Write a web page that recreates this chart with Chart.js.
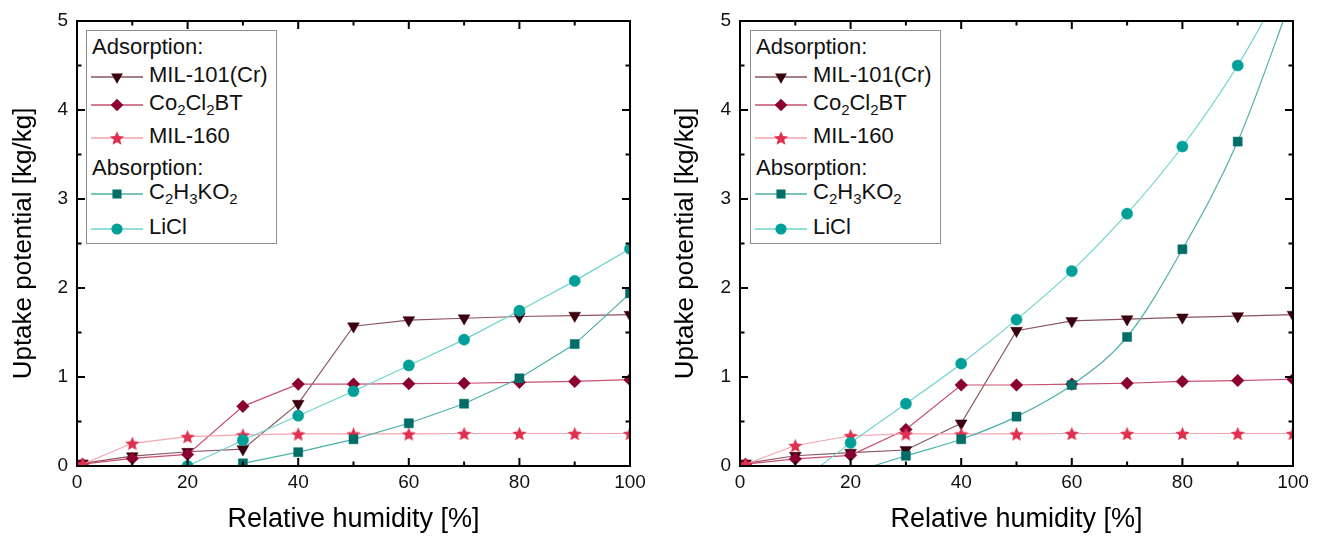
<!DOCTYPE html>
<html><head><meta charset="utf-8">
<script src="https://cdn.jsdelivr.net/npm/chart.js@4.4.1/dist/chart.umd.min.js"></script>
<style>
body{margin:0;background:#fff;width:1320px;height:539px;overflow:hidden;position:relative;font-family:"Liberation Sans",Arial,sans-serif;}
.panel{position:absolute;top:0;width:660px;height:539px;}
.legend{position:absolute;top:30px;width:189px;height:212px;border:1px solid #8f8f8f;background:#fff;}
.legend svg{position:absolute;left:0;top:0;}
.row{position:absolute;height:26px;line-height:26px;font-size:22px;color:#111;white-space:nowrap;}
.row sub{font-size:15px;vertical-align:-5px;line-height:0;}
</style></head>
<body>
<div class="panel" style="left:0"><canvas id="cL" width="660" height="539"></canvas></div>
<div class="panel" style="left:660px"><canvas id="cR" width="660" height="539"></canvas></div>
<div class="legend" id="legL" style="left:86px"></div>
<div class="legend" id="legR" style="left:750px"></div>
<script>
// ---------- data ----------
const rhAll = [1, 10, 20, 30, 40, 50, 60, 70, 80, 90, 100];
const rhKOAcLeft = [30, 40, 50, 60, 70, 80, 90, 100];
const rhLiClLeft = [20, 30, 40, 50, 60, 70, 80, 90, 100];
const rhKOAcRight = [20, 30, 40, 50, 60, 70, 80, 90, 100];
const rhLiClRight = [10, 20, 30, 40, 50, 60, 70, 80, 90, 100];

const mil101Left = [0.03, 0.11, 0.16, 0.19, 0.70, 1.57, 1.64, 1.66, 1.68, 1.69, 1.70];
const co2cl2btLeft = [0.02, 0.085, 0.13, 0.67, 0.92, 0.92, 0.925, 0.93, 0.94, 0.95, 0.97];
const mil160Left = [0.02, 0.255, 0.33, 0.35, 0.36, 0.36, 0.36, 0.365, 0.365, 0.365, 0.365];
const koacLeft = [0.03, 0.155, 0.30, 0.48, 0.70, 0.985, 1.37, 1.94];
const liclLeft = [0.0, 0.29, 0.565, 0.84, 1.13, 1.42, 1.745, 2.08, 2.44];

const mil101Right = [0.03, 0.115, 0.15, 0.18, 0.48, 1.52, 1.63, 1.65, 1.67, 1.685, 1.70];
const co2cl2btRight = [0.02, 0.08, 0.12, 0.41, 0.91, 0.91, 0.92, 0.93, 0.95, 0.96, 0.975];
const mil160Right = [0.02, 0.23, 0.34, 0.36, 0.36, 0.36, 0.365, 0.365, 0.365, 0.365, 0.365];
const koacRight = [-0.08, 0.115, 0.30, 0.555, 0.91, 1.45, 2.435, 3.645, 5.3];
const liclRight = [-0.22, 0.26, 0.70, 1.15, 1.645, 2.19, 2.835, 3.59, 4.50, 5.6];

const seriesNames = ['MIL-101(Cr)', 'Co2Cl2BT', 'MIL-160', 'C2H3KO2', 'LiCl'];
const xTickValues = [0, 20, 40, 60, 80, 100];
const yTickValues = [0, 1, 2, 3, 4, 5];
const xTitle = 'Relative humidity [%]';
const yTitle = 'Uptake potential [kg/kg]';
const legendHeaders = ['Adsorption:', 'Absorption:'];
const legendLabels = ['MIL-101(Cr)', 'Co<sub>2</sub>Cl<sub>2</sub>BT', 'MIL-160', 'C<sub>2</sub>H<sub>3</sub>KO<sub>2</sub>', 'LiCl'];

// ---------- styles ----------
const styles = [
  {line:'#8a5563', mark:'#3a0010', shape:'triangle', r:6.8, rot:180},
  {line:'#c8506e', mark:'#8a0030', shape:'rectRot', r:6.3, rot:0},
  {line:'#f4a3b2', mark:'#e0304f', shape:'star', r:7, rot:0},
  {line:'#4fb0a8', mark:'#006e66', shape:'rect', r:6.4, rot:0},
  {line:'#6fd3cc', mark:'#00a099', shape:'circle', r:5.6, rot:0}
];

function starCanvas(color, size){
  const c = document.createElement('canvas');
  c.width = c.height = size;
  const g = c.getContext('2d');
  const R = size/2, r = R*0.45, cy = R + R*0.1;
  g.beginPath();
  for (let i=0;i<10;i++){
    const a = -Math.PI/2 + i*Math.PI/5;
    const rr = i%2 ? r : R;
    g.lineTo(R + rr*Math.cos(a), cy + rr*Math.sin(a));
  }
  g.closePath(); g.fillStyle = color; g.fill();
  return c;
}
const starImg = starCanvas(styles[2].mark, 15);

function pts(xs, ys){ return xs.map((x,i)=>({x:x, y:ys[i]})); }

function ds(idx, xs, ys, smooth){
  const s = styles[idx];
  return {
    label: seriesNames[idx],
    data: pts(xs, ys),
    borderColor: s.line, borderWidth: 1.2,
    backgroundColor: s.mark,
    pointStyle: s.shape === 'star' ? starImg : s.shape,
    pointRotation: s.rot,
    pointRadius: s.r,
    pointBackgroundColor: s.mark,
    pointBorderColor: s.mark,
    pointBorderWidth: 0.5,
    cubicInterpolationMode: smooth ? 'monotone' : 'default',
    tension: 0,
    clip: 0,
    order: 5 - idx
  };
}

const framePlugin = {
  id: 'frame',
  afterDatasetsDraw(chart){
    const {ctx, chartArea:{left,right,top,bottom}, scales:{x,y}} = chart;
    ctx.save();
    ctx.strokeStyle = '#000';
    ctx.lineWidth = 2;
    ctx.beginPath();
    for (let v=0; v<=100; v+=10){
      const px = x.getPixelForValue(v);
      const len = (v%20===0) ? 8 : 4.5;
      ctx.moveTo(px, bottom); ctx.lineTo(px, bottom-len);
      ctx.moveTo(px, top); ctx.lineTo(px, top+len);
    }
    for (let v=0; v<=5; v+=0.5){
      const py = y.getPixelForValue(v);
      const len = (Math.abs(v-Math.round(v))<1e-9) ? 8 : 4.5;
      ctx.moveTo(left, py); ctx.lineTo(left+len, py);
      ctx.moveTo(right, py); ctx.lineTo(right-len, py);
    }
    ctx.stroke();
    ctx.lineWidth = 2;
    ctx.strokeRect(left, top, right-left, bottom-top);
    ctx.restore();
  }
};

function makeChart(id, datasets, yWidth, padRight, titlePad){
  return new Chart(document.getElementById(id), {
    type: 'line',
    data: { datasets: datasets },
    options: {
      responsive: false, animation: false, devicePixelRatio: 1, events: [],
      layout: { padding: { top: 21, right: padRight, left: 0, bottom: 0 } },
      plugins: { legend: {display:false}, tooltip: {enabled:false} },
      scales: {
        x: {
          type: 'linear', min: 0, max: 100,
          afterFit: s => { s.height = 73; },
          afterBuildTicks: s => { s.ticks = xTickValues.map(v=>({value:v})); },
          grid: { display: false, drawTicks: false },
          border: { display: false },
          ticks: { padding: 5, color: '#111', font: {family:'"Liberation Sans", Arial, sans-serif', size: 19}, maxRotation: 0 },
          title: { display: true, text: xTitle, color: '#000', padding: {top:0, bottom:3},
                   font: {family:'"Liberation Sans", Arial, sans-serif', size: 27} }
        },
        y: {
          type: 'linear', min: 0, max: 5,
          afterFit: s => { s.width = yWidth; },
          afterBuildTicks: s => { s.ticks = yTickValues.map(v=>({value:v})); },
          grid: { display: false, drawTicks: false },
          border: { display: false },
          ticks: { padding: 9, color: '#111', font: {family:'"Liberation Sans", Arial, sans-serif', size: 19} },
          title: { display: true, text: yTitle, color: '#000', padding: {top: titlePad, bottom: 0},
                   font: {family:'"Liberation Sans", Arial, sans-serif', size: 26} }
        }
      }
    },
    plugins: [framePlugin]
  });
}

makeChart('cL', [
  ds(0, rhAll, mil101Left, false),
  ds(1, rhAll, co2cl2btLeft, false),
  ds(2, rhAll, mil160Left, false),
  ds(3, rhKOAcLeft, koacLeft, false),
  ds(4, rhLiClLeft, liclLeft, false)
], 77, 30, 8);

makeChart('cR', [
  ds(0, rhAll, mil101Right, false),
  ds(1, rhAll, co2cl2btRight, false),
  ds(2, rhAll, mil160Right, false),
  ds(3, rhKOAcRight, koacRight, true),
  ds(4, rhLiClRight, liclRight, true)
], 80, 27, 10);

// ---------- legend (HTML text + SVG symbols) ----------
function markerSvg(s, cx, cy){
  const c = s.mark;
  if (s.shape==='triangle'){
    const r=s.r, w=r*Math.sqrt(3)/2;
    return `<polygon points="${cx-w},${cy-r/2} ${cx+w},${cy-r/2} ${cx},${cy+r}" fill="${c}"/>`;
  }
  if (s.shape==='rectRot'){
    const r=s.r;
    return `<polygon points="${cx},${cy-r} ${cx+r},${cy} ${cx},${cy+r} ${cx-r},${cy}" fill="${c}"/>`;
  }
  if (s.shape==='rect'){
    const h=s.r*Math.SQRT1_2;
    return `<rect x="${cx-h}" y="${cy-h}" width="${2*h}" height="${2*h}" fill="${c}"/>`;
  }
  if (s.shape==='circle'){
    return `<circle cx="${cx}" cy="${cy}" r="${s.r}" fill="${c}"/>`;
  }
  const R=7.5, r=R*0.45, oy=R*0.1; let p=[];
  for (let i=0;i<10;i++){ const a=-Math.PI/2+i*Math.PI/5; const rr=i%2?r:R; p.push((cx+rr*Math.cos(a)).toFixed(2)+','+(cy+oy+rr*Math.sin(a)).toFixed(2)); }
  return `<polygon points="${p.join(' ')}" fill="${c}"/>`;
}

function buildLegend(id){
  const box = document.getElementById(id);
  const headerCenters = [15.5, 136.5];
  const rowCenters = [44, 72, 105, 161, 196];
  let html = '';
  headerCenters.forEach((c,i)=>{
    html += `<div class="row" style="left:5px;top:${c-13}px">${legendHeaders[i]}</div>`;
  });
  let svg = `<svg width="189" height="212" xmlns="http://www.w3.org/2000/svg">`;
  rowCenters.forEach((c,i)=>{
    const s = styles[i];
    const ly = c + 2;
    svg += `<line x1="4" y1="${ly}" x2="56" y2="${ly}" stroke="${s.line}" stroke-width="1.5"/>`;
    svg += markerSvg(s, 30, ly);
    html += `<div class="row" style="left:62px;top:${c-13}px">${legendLabels[i]}</div>`;
  });
  svg += `</svg>`;
  box.innerHTML = svg + html;
}
buildLegend('legL');
buildLegend('legR');
</script>
</body></html>
